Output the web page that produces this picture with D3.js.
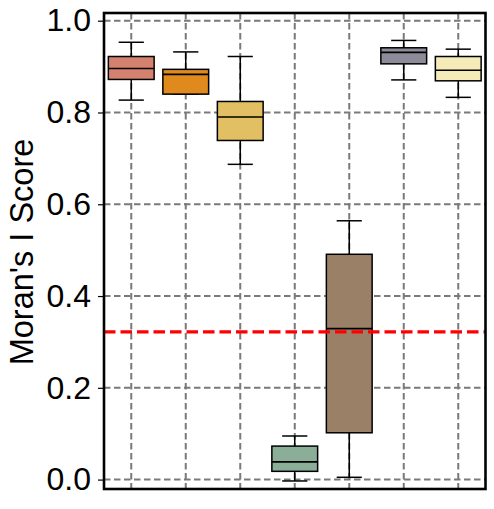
<!DOCTYPE html>
<html>
<head>
<meta charset="utf-8">
<script src="https://cdn.jsdelivr.net/npm/d3@7"></script>
<style>
body { margin: 0; background: #fff; }
text { font-family: "Liberation Sans", Arial, sans-serif; }
</style>
</head>
<body>
<div id="chart"></div>
<script>
// box stats (lower whisker, Q1, median, Q3, upper whisker)
var groups   = ["A", "B", "C", "D", "E", "F", "G"];
var colours  = ["#d4826f", "#e08a1e", "#e3bf64", "#8aae98", "#9b8068", "#8e8c9a", "#f5ebb8"];
var whiskLo  = [0.827, 0.840, 0.687, -0.003, 0.005, 0.871, 0.833];
var q1       = [0.872, 0.840, 0.739, 0.018, 0.102, 0.906, 0.869];
var medians  = [0.896, 0.883, 0.790, 0.0386, 0.329, 0.931, 0.892];
var q3       = [0.922, 0.894, 0.824, 0.073, 0.491, 0.941, 0.922];
var whiskHi  = [0.953, 0.932, 0.922, 0.095, 0.564, 0.957, 0.938];
var refLine  = 0.322;
var yTicks   = [0.0, 0.2, 0.4, 0.6, 0.8, 1.0];

var width = 494, height = 509;
var margin = {top: 13, right: 8.5, bottom: 20, left: 104};
var w = width - margin.left - margin.right,
    h = height - margin.top - margin.bottom;

var svg = d3.select("#chart").append("svg")
    .attr("width", width).attr("height", height);
var g = svg.append("g").attr("transform", "translate(" + margin.left + "," + margin.top + ")");

var x = d3.scaleBand().domain(groups).range([0, w]).padding(0);
var y = d3.scaleLinear().domain([-0.0205, 1.0168]).range([h, 0]);

var data = groups.map(function(k, i) {
  return {key: k, colour: colours[i], lo: whiskLo[i], q1: q1[i], med: medians[i], q3: q3[i], hi: whiskHi[i]};
});

// grid
g.append("g").selectAll("line").data(yTicks).enter().append("line")
    .attr("x1", 0).attr("x2", w)
    .attr("y1", function(d) { return y(d); }).attr("y2", function(d) { return y(d); })
    .attr("stroke", "#7a7a7a").attr("stroke-width", 2).attr("stroke-dasharray", "6.5,3.5");
g.append("g").selectAll("line").data(groups).enter().append("line")
    .attr("x1", function(d) { return x(d) + x.bandwidth() / 2; })
    .attr("x2", function(d) { return x(d) + x.bandwidth() / 2; })
    .attr("y1", 0).attr("y2", h)
    .attr("stroke", "#7a7a7a").attr("stroke-width", 2).attr("stroke-dasharray", "6.5,3.5");

// boxes
var boxW = x.bandwidth() * 0.84, capW = boxW * 0.55;
var box = g.append("g").selectAll("g").data(data).enter().append("g")
    .attr("transform", function(d) { return "translate(" + (x(d.key) + x.bandwidth() / 2) + ",0)"; });

box.append("line")
    .attr("x1", 0).attr("x2", 0)
    .attr("y1", function(d) { return y(d.hi); }).attr("y2", function(d) { return y(d.lo); })
    .attr("stroke", "#000").attr("stroke-width", 1.5);
box.selectAll(".cap").data(function(d) { return [d.lo, d.hi]; }).enter().append("line")
    .attr("class", "cap")
    .attr("x1", -capW / 2).attr("x2", capW / 2)
    .attr("y1", function(v) { return y(v); }).attr("y2", function(v) { return y(v); })
    .attr("stroke", "#000").attr("stroke-width", 1.5);
box.append("rect")
    .attr("x", -boxW / 2).attr("width", boxW)
    .attr("y", function(d) { return y(d.q3); })
    .attr("height", function(d) { return y(d.q1) - y(d.q3); })
    .attr("fill", function(d) { return d.colour; })
    .attr("stroke", "#000").attr("stroke-width", 1.5);
box.append("line")
    .attr("x1", -boxW / 2).attr("x2", boxW / 2)
    .attr("y1", function(d) { return y(d.med); }).attr("y2", function(d) { return y(d.med); })
    .attr("stroke", "#000").attr("stroke-width", 1.6);

// red reference line
g.append("line")
    .attr("x1", 0).attr("x2", w)
    .attr("y1", y(refLine)).attr("y2", y(refLine))
    .attr("stroke", "#ff0000").attr("stroke-width", 3.2).attr("stroke-dasharray", "11.5,5");

// y axis
var yAxis = g.append("g")
    .call(d3.axisLeft(y).tickValues(yTicks).tickFormat(d3.format(".1f")).tickSize(6).tickPadding(7));
yAxis.select(".domain").remove();
yAxis.selectAll("line").attr("stroke", "#000").attr("stroke-width", 1.2);
yAxis.selectAll("text").attr("font-size", 32).attr("fill", "#000")
    .style("font-family", "'Liberation Sans', Arial, sans-serif");

// frame
g.append("rect").attr("x", 0).attr("y", 0).attr("width", w).attr("height", h)
    .attr("fill", "none").attr("stroke", "#000").attr("stroke-width", 2.6);

svg.append("text")
    .attr("transform", "translate(33," + 252 + ") rotate(-90)")
    .attr("text-anchor", "middle")
    .attr("font-size", 32.5)
    .attr("fill", "#000")
    .text("Moran's I Score");
</script>
</body>
</html>
